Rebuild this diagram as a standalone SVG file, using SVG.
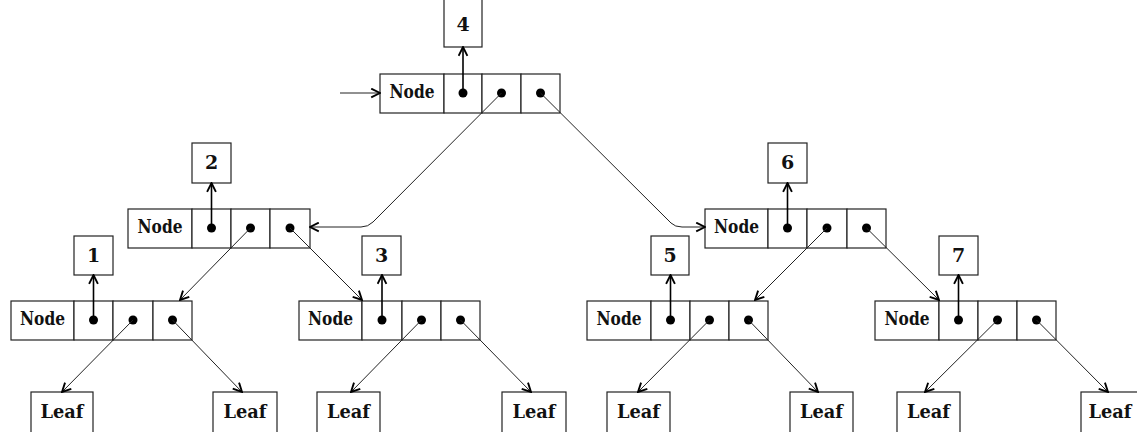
<svg xmlns="http://www.w3.org/2000/svg" width="1137" height="432" viewBox="0 0 1137 432">
<style>
.b{fill:#fff;stroke:#222;stroke-width:1.2}
.t{font-family:"DejaVu Serif","Liberation Serif",serif;font-weight:bold;font-size:19px;fill:#111;text-anchor:middle}
.d{fill:#000}
.c{fill:none;stroke:#222;stroke-width:1;marker-end:url(#ah)}
.p{fill:none;stroke:#000;stroke-width:1.6;marker-end:url(#ah)}
</style>
<defs>
<marker id="ah" viewBox="0 0 10 10" refX="9" refY="5" markerWidth="11" markerHeight="11" markerUnits="userSpaceOnUse" orient="auto">
<path d="M1,1 L9,5 L1,9" fill="none" stroke="#000" stroke-width="1.7"/>
</marker>
</defs>
<rect width="1137" height="432" fill="#fff"/>

<g id="n4">
<rect class="b" x="380" y="74" width="64" height="39"/>
<rect class="b" x="444" y="74" width="38" height="39"/>
<rect class="b" x="482" y="74" width="39" height="39"/>
<rect class="b" x="521" y="74" width="39" height="39"/>
<text class="t" x="412" y="98" textLength="45" lengthAdjust="spacingAndGlyphs">Node</text>
<circle class="d" cx="463" cy="93" r="4.5"/><circle class="d" cx="501.5" cy="93" r="4.5"/><circle class="d" cx="540.5" cy="93" r="4.5"/>
</g>
<g id="k4"><rect class="b" x="444" y="-5" width="38" height="52"/><text class="t" x="463" y="31">4</text></g>

<g id="n2">
<rect class="b" x="128" y="209" width="64" height="39"/>
<rect class="b" x="192" y="209" width="39" height="39"/>
<rect class="b" x="231" y="209" width="39" height="39"/>
<rect class="b" x="270" y="209" width="40" height="39"/>
<text class="t" x="160" y="233" textLength="45" lengthAdjust="spacingAndGlyphs">Node</text>
<circle class="d" cx="211.5" cy="228" r="4.5"/><circle class="d" cx="250.5" cy="228" r="4.5"/><circle class="d" cx="290" cy="228" r="4.5"/>
</g>
<g id="k2"><rect class="b" x="192" y="143" width="39" height="40"/><text class="t" x="211.5" y="169">2</text></g>

<g id="n6">
<rect class="b" x="705" y="209" width="63" height="39"/>
<rect class="b" x="768" y="209" width="39" height="39"/>
<rect class="b" x="807" y="209" width="40" height="39"/>
<rect class="b" x="847" y="209" width="39" height="39"/>
<text class="t" x="736.5" y="233" textLength="45" lengthAdjust="spacingAndGlyphs">Node</text>
<circle class="d" cx="787.5" cy="228" r="4.5"/><circle class="d" cx="827" cy="228" r="4.5"/><circle class="d" cx="866.5" cy="228" r="4.5"/>
</g>
<g id="k6"><rect class="b" x="768" y="143" width="39" height="40"/><text class="t" x="787.5" y="169">6</text></g>

<g id="n1">
<rect class="b" x="11" y="301" width="63" height="39"/>
<rect class="b" x="74" y="301" width="39" height="39"/>
<rect class="b" x="113" y="301" width="40" height="39"/>
<rect class="b" x="153" y="301" width="39" height="39"/>
<text class="t" x="42.5" y="325" textLength="45" lengthAdjust="spacingAndGlyphs">Node</text>
<circle class="d" cx="93.5" cy="320" r="4.5"/><circle class="d" cx="133" cy="320" r="4.5"/><circle class="d" cx="172.5" cy="320" r="4.5"/>
</g>
<g id="k1"><rect class="b" x="74" y="236" width="39" height="39"/><text class="t" x="93.5" y="262">1</text></g>

<g id="n3">
<rect class="b" x="299" y="301" width="63" height="39"/>
<rect class="b" x="362" y="301" width="40" height="39"/>
<rect class="b" x="402" y="301" width="39" height="39"/>
<rect class="b" x="441" y="301" width="39" height="39"/>
<text class="t" x="330.5" y="325" textLength="45" lengthAdjust="spacingAndGlyphs">Node</text>
<circle class="d" cx="382" cy="320" r="4.5"/><circle class="d" cx="421.5" cy="320" r="4.5"/><circle class="d" cx="460.5" cy="320" r="4.5"/>
</g>
<g id="k3"><rect class="b" x="362" y="236" width="39" height="39"/><text class="t" x="381.5" y="262">3</text></g>

<g id="n5">
<rect class="b" x="587" y="301" width="64" height="39"/>
<rect class="b" x="651" y="301" width="39" height="39"/>
<rect class="b" x="690" y="301" width="39" height="39"/>
<rect class="b" x="729" y="301" width="39" height="39"/>
<text class="t" x="619" y="325" textLength="45" lengthAdjust="spacingAndGlyphs">Node</text>
<circle class="d" cx="670.5" cy="320" r="4.5"/><circle class="d" cx="709.5" cy="320" r="4.5"/><circle class="d" cx="748.5" cy="320" r="4.5"/>
</g>
<g id="k5"><rect class="b" x="651" y="236" width="38" height="39"/><text class="t" x="670" y="262">5</text></g>

<g id="n7">
<rect class="b" x="875" y="301" width="64" height="39"/>
<rect class="b" x="939" y="301" width="39" height="39"/>
<rect class="b" x="978" y="301" width="39" height="39"/>
<rect class="b" x="1017" y="301" width="39" height="39"/>
<text class="t" x="907" y="325" textLength="45" lengthAdjust="spacingAndGlyphs">Node</text>
<circle class="d" cx="958.5" cy="320" r="4.5"/><circle class="d" cx="997.5" cy="320" r="4.5"/><circle class="d" cx="1036.5" cy="320" r="4.5"/>
</g>
<g id="k7"><rect class="b" x="939" y="236" width="39" height="39"/><text class="t" x="958.5" y="262">7</text></g>

<g id="l1"><rect class="b" x="31" y="392" width="62" height="50"/><text class="t" x="62" y="418" textLength="43" lengthAdjust="spacingAndGlyphs">Leaf</text></g>
<g id="l2"><rect class="b" x="213" y="392" width="64" height="50"/><text class="t" x="245" y="418" textLength="43" lengthAdjust="spacingAndGlyphs">Leaf</text></g>
<g id="l3"><rect class="b" x="317" y="392" width="63" height="50"/><text class="t" x="348.5" y="418" textLength="43" lengthAdjust="spacingAndGlyphs">Leaf</text></g>
<g id="l4"><rect class="b" x="502" y="392" width="64" height="50"/><text class="t" x="534" y="418" textLength="43" lengthAdjust="spacingAndGlyphs">Leaf</text></g>
<g id="l5"><rect class="b" x="607" y="392" width="63" height="50"/><text class="t" x="638.5" y="418" textLength="43" lengthAdjust="spacingAndGlyphs">Leaf</text></g>
<g id="l6"><rect class="b" x="790" y="392" width="63" height="50"/><text class="t" x="821.5" y="418" textLength="43" lengthAdjust="spacingAndGlyphs">Leaf</text></g>
<g id="l7"><rect class="b" x="897" y="392" width="63" height="50"/><text class="t" x="928.5" y="418" textLength="43" lengthAdjust="spacingAndGlyphs">Leaf</text></g>
<g id="l8"><rect class="b" x="1081" y="392" width="64" height="50"/><text class="t" x="1110" y="418" textLength="43" lengthAdjust="spacingAndGlyphs">Leaf</text></g>

<g id="connectors">
<path class="c" d="M340,93 L380,93"/>
<path class="p" d="M463,93 L463,47"/>
<path class="p" d="M211.5,228 L211.5,183"/>
<path class="p" d="M787.5,228 L787.5,183"/>
<path class="p" d="M93.5,320 L93.5,275"/>
<path class="p" d="M382,320 L382,275"/>
<path class="p" d="M670.5,320 L670.5,275"/>
<path class="p" d="M958.5,320 L958.5,275"/>
<path class="c" d="M501.5,93 L373,222 Q368,227 361,227 L310,227"/>
<path class="c" d="M540.5,93 L671,223 Q675,227 682,227 L705,227"/>
<path class="c" d="M250.5,228 L180,300"/>
<path class="c" d="M290,228 L362,300"/>
<path class="c" d="M827,228 L755,300"/>
<path class="c" d="M866.5,228 L939,300"/>
<path class="c" d="M133,320 L62,392"/>
<path class="c" d="M172.5,320 L242,392"/>
<path class="c" d="M421.5,320 L351,392"/>
<path class="c" d="M460.5,320 L531,392"/>
<path class="c" d="M709.5,320 L638,392"/>
<path class="c" d="M748.5,320 L818,392"/>
<path class="c" d="M997.5,320 L925,392"/>
<path class="c" d="M1036.5,320 L1108,392"/>
</g>
</svg>
